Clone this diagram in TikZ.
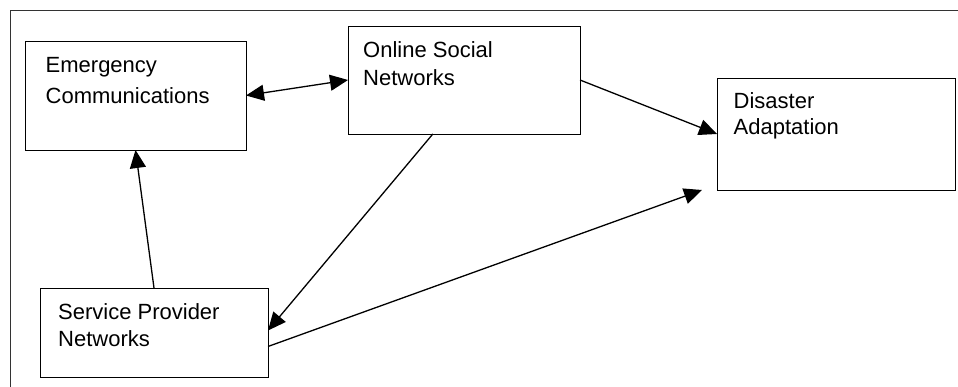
\documentclass[tikz,border=0pt]{standalone}
\usepackage{fontspec}
\setmainfont{Liberation Sans}
\usetikzlibrary{arrows.meta,calc}
\tikzset{
  box/.style={draw=black, line width=0.9pt, minimum width=#1, inner sep=0pt, outer sep=0pt, anchor=north west},
  lbl/.style={inner sep=0pt, anchor=base west, align=left, font=\fontsize{22pt}{#1}\selectfont},
  conn/.style={line width=1.3pt, -{Triangle[length=18pt,width=16pt]}},
  biconn/.style={line width=1.3pt, {Triangle[length=18pt,width=16pt]}-{Triangle[length=18pt,width=16pt]}},
  frame/.style={line width=0.9pt, draw=black!80}
}
\begin{document}
\begin{tikzpicture}[x=1pt,y=-1pt]
\useasboundingbox (0,0) rectangle (958,387);
\coordinate (ftr) at (958,10);
\coordinate (ftl) at (10,10);
\coordinate (fbl) at (10,387);
\draw[frame] (ftr) -- (ftl) -- (fbl);

\node[box=221pt, minimum height=109pt] (ec) at (25,41) {};
\node[box=232pt, minimum height=108pt] (osn) at (348,26) {};
\node[box=238pt, minimum height=112pt] (da) at (717,78) {};
\node[box=228pt, minimum height=89pt] (spn) at (40,288) {};

\node[lbl=31pt] (ect) at (45.5,103.5) {Emergency\\Communications};
\node[lbl=27.5pt] (osnt) at (363,85.2) {Online Social\\Networks};
\node[lbl=26.7pt] (dat) at (733.5,135) {Disaster\\Adaptation};
\node[lbl=26.8pt] (spnt) at (58,346.5) {Service Provider\\Networks};

\coordinate (daend) at (702,190);

\draw[biconn] (ec.east) -- (osn.west);
\draw[conn] (osn.east) -- (da.west);
\draw[conn] (spn.north) -- (ec.south);
\draw[conn] (osn.240) -- (spn.1);
\draw[conn] (spn.-7) -- (daend);
\end{tikzpicture}
\end{document}
